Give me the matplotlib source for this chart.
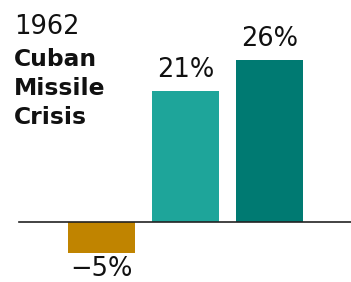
import matplotlib
matplotlib.use("Agg")
import matplotlib.pyplot as plt

categories = ["A", "B", "C"]
values = [-5, 21, 26]
value_labels = ["\u22125%", "21%", "26%"]
colors = ["#C08400", "#1EA59A", "#007A72"]
year = "1962"
event_lines = ["Cuban", "Missile", "Crisis"]

FONT = "DejaVu Sans"

fig = plt.figure(figsize=(3.51, 2.82), dpi=100)
ax = fig.add_axes([0, 0, 1, 1])
ax.set_xlim(-101.5 / 84, (351 - 101.5) / 84)
ax.set_ylim(-60 / 6.24, 222 / 6.24)
ax.axis("off")

x = list(range(len(values)))
ax.bar(x, values, width=0.8, color=colors, zorder=2)
ax.plot([(19 - 101.5) / 84, (351 - 101.5) / 84], [0, 0], color="#222222", lw=1.2, zorder=3)

for xi, v, lab in zip(x, values, value_labels):
    off = 2.2 if v >= 0 else -3.6
    ax.text(xi, v + off, lab, ha="center", va="baseline", fontsize=18.5, family=FONT, color="#111111")

fig.text(14 / 351, 1 - 34 / 282, year, ha="left", va="baseline", fontsize=18.5, family=FONT, color="#111111")
for i, line in enumerate(event_lines):
    fig.text(14 / 351, 1 - (66 + 29 * i) / 282, line, ha="left", va="baseline", fontsize=16.8,
             family=FONT, fontweight="bold", color="#111111")

fig.savefig("out.png", dpi=100)
